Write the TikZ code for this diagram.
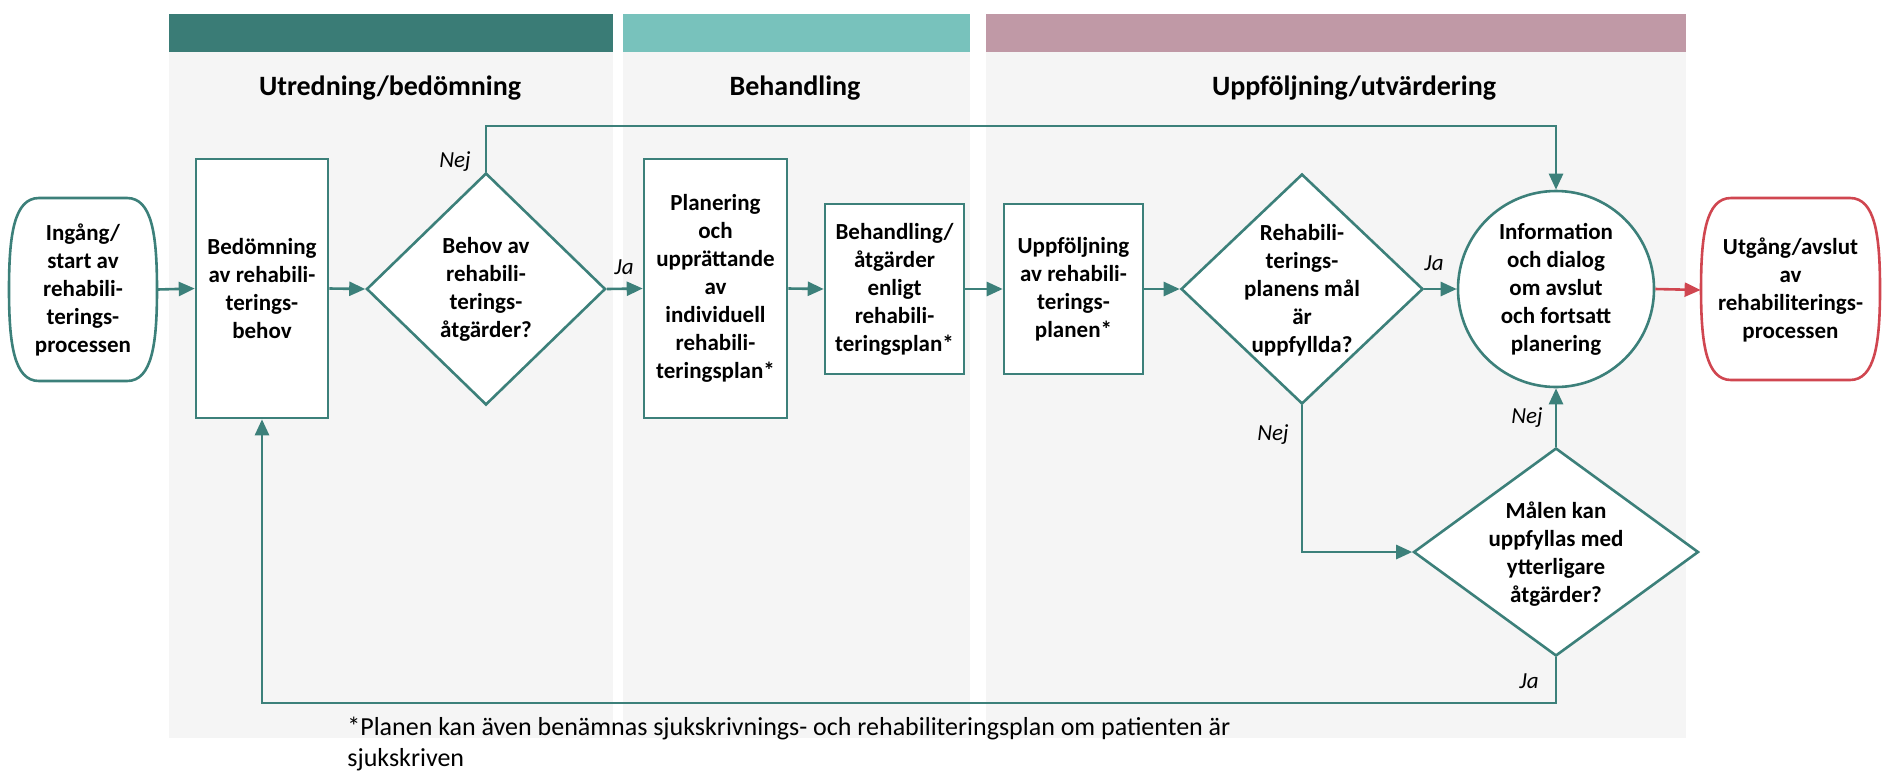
\documentclass[tikz,border=0pt]{standalone}
\usepackage{fontspec}
\setmainfont{Carlito}
\usetikzlibrary{shapes.geometric,arrows.meta,calc}
\definecolor{tl}{RGB}{60,128,122}
\definecolor{barA}{RGB}{58,124,118}
\definecolor{barB}{RGB}{120,194,188}
\definecolor{barC}{RGB}{192,153,166}
\definecolor{panel}{RGB}{245,245,245}
\definecolor{rd}{RGB}{208,70,80}
\begin{document}
\begin{tikzpicture}[x=0.5pt,y=-0.5pt,
  txt/.style={align=center,font=\bfseries\fontsize{11.5}{14}\selectfont,inner sep=0pt,text=black},
  box/.style={draw=tl,line width=1.3pt,fill=white,inner sep=0pt,txt},
  dia/.style={draw=tl,line width=1.3pt,fill=white,diamond,inner sep=0pt},
  lbl/.style={font=\itshape\fontsize{11.5}{13}\selectfont,inner sep=0pt},
  hdr/.style={font=\bfseries\fontsize{14}{17}\selectfont,inner sep=0pt},
  foot/.style={font=\fontsize{13}{16}\selectfont,inner sep=0pt,anchor=west},
  arr/.style={draw=tl,line width=1.3pt,-{Triangle[length=8pt,width=7pt]}},
  rarr/.style={draw=rd,line width=1.3pt,-{Triangle[length=8pt,width=7pt]}}]
\useasboundingbox (0,0) rectangle (1882,772);
% panels and bars
\fill[panel] (169,52) rectangle (613,738);
\fill[panel] (623,52) rectangle (970,738);
\fill[panel] (986,52) rectangle (1686,738);
\fill[barA] (169,14) rectangle (613,52);
\fill[barB] (623,14) rectangle (970,52);
\fill[barC] (986,14) rectangle (1686,52);
\node[hdr] (h1) at (390,88) {Utredning/bedömning};
\node[hdr] (h2) at (795,88) {Behandling};
\node[hdr] (h3) at (1354,88) {Uppföljning/utvärdering};
% start terminal
\fill[white] (39,198) -- (127,198) .. controls (152,198) and (157,235) .. (157,289.5) .. controls (157,344) and (152,381) .. (127,381) -- (39,381) .. controls (14,381) and (9,344) .. (9,289.5) .. controls (9,235) and (14,198) .. (39,198) -- cycle;
\draw[tl,line width=1.3pt] (39,198) -- (127,198) .. controls (152,198) and (157,235) .. (157,289.5) .. controls (157,344) and (152,381) .. (127,381) -- (39,381) .. controls (14,381) and (9,344) .. (9,289.5) .. controls (9,235) and (14,198) .. (39,198) -- cycle;
\node[txt,minimum width=74pt,minimum height=91.5pt] (in) at (83,289.5) {Ingång/\\start av\\rehabili-\\terings-\\processen};
% end terminal
\fill[white] (1731,198) -- (1850,198) .. controls (1875,198) and (1880,235) .. (1880,289) .. controls (1880,343) and (1875,380) .. (1850,380) -- (1731,380) .. controls (1706,380) and (1701,343) .. (1701,289) .. controls (1701,235) and (1706,198) .. (1731,198) -- cycle;
\draw[rd,line width=1.3pt] (1731,198) -- (1850,198) .. controls (1875,198) and (1880,235) .. (1880,289) .. controls (1880,343) and (1875,380) .. (1850,380) -- (1731,380) .. controls (1706,380) and (1701,343) .. (1701,289) .. controls (1701,235) and (1706,198) .. (1731,198) -- cycle;
\node[txt,minimum width=89.5pt,minimum height=91pt] (ut) at (1790.5,290) {Utgång/avslut\\av\\rehabiliterings-\\processen};
% boxes
\node[box,minimum width=66pt,minimum height=129.5pt] (bed) at (262,288.5) {Bedömning\\av rehabili-\\terings-\\behov};
\node[box,minimum width=71.5pt,minimum height=129.5pt] (plan) at (715.5,288.5) {Planering\\och\\upprättande\\av\\individuell\\rehabili-\\teringsplan*};
\node[box,minimum width=69.5pt,minimum height=85pt] (beh) at (894.5,289) {Behandling/\\åtgärder\\enligt\\rehabili-\\teringsplan*};
\node[box,minimum width=69.5pt,minimum height=85pt] (upp) at (1073.5,289) {Uppföljning\\av rehabili-\\terings-\\planen*};
\node[box,circle,minimum size=98pt] (info) at (1556,289) {Information\\och dialog\\om avslut\\och fortsatt\\planering};
% diamonds
\node[dia,minimum width=119.5pt,minimum height=116pt] (d1) at (486,289) {};
\node[txt] (d1t) at (486,289) {Behov av\\rehabili-\\terings-\\åtgärder?};
\node[dia,minimum width=121pt,minimum height=115pt] (d2) at (1302,289) {};
\node[txt] (d2t) at (1302,290) {Rehabili-\\terings-\\planens mål\\är\\uppfyllda?};
\node[dia,minimum width=142.5pt,minimum height=104pt] (d3) at (1556,552) {};
\node[txt] (d3t) at (1556,554) {Målen kan\\uppfyllas med\\ytterligare\\åtgärder?};
% helper coordinates
\coordinate (topc) at (0,126);
\coordinate (botc) at (0,703);
% connectors
\draw[arr] (in.east) -- (bed.west);
\draw[arr] (bed.east) -- (d1.west);
\draw[arr] (d1.east) -- (plan.west);
\draw[arr] (plan.east) -- (beh.west);
\draw[arr] (beh.east) -- (upp.west);
\draw[arr] (upp.east) -- (d2.west);
\draw[arr] (d2.east) -- (info.west);
\draw[rarr] (info.east) -- (ut.west);
\draw[arr] (d1.north) |- (info.north |- topc) -- (info.north);
\draw[arr] (d2.south) |- (d3.west);
\draw[arr] (d3.north) -- (info.south);
\draw[arr] (d3.south) |- (bed.south |- botc) -- (bed.south);
% labels
\node[lbl] (l1) at (455,162) {Nej};
\node[lbl] (l2) at (624,267) {Ja};
\node[lbl] (l3) at (1434,263) {Ja};
\node[lbl] (l4) at (1273,435) {Nej};
\node[lbl] (l5) at (1527,418) {Nej};
\node[lbl] (l6) at (1529,681) {Ja};
% footnote
\node[foot] (fn1) at (347,728) {*Planen kan även benämnas sjukskrivnings- och rehabiliteringsplan om patienten är};
\node[foot] (fn2) at (347,760) {sjukskriven};
\end{tikzpicture}
\end{document}
